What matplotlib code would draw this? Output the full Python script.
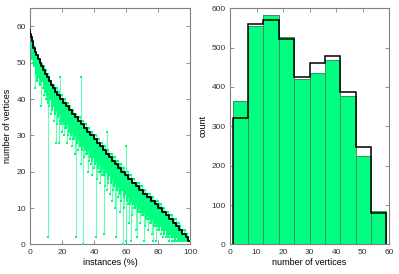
import numpy as np
import matplotlib
matplotlib.use('Agg')
import matplotlib.pyplot as plt

plt.rcParams['font.family'] = ['Liberation Sans', 'DejaVu Sans']

# left panel: best number of vertices per instance (staircase) --------------
# value of each step and the instance percentage where it starts
step_value = [59, 58, 57, 56, 55, 54, 53, 52, 51, 50, 49, 48, 47, 46, 45, 44,
              43, 42, 41, 40, 39, 38, 37, 36, 35, 34, 33, 32, 31, 30, 29, 28,
              27, 26, 25, 24, 23, 22, 21, 20, 19, 18, 17, 16, 15, 14, 13, 12,
              11, 10, 9, 8, 7, 6, 5, 4, 3, 2, 1]
step_start = [0, 0.3, 0.7, 1.2, 1.6, 2.1, 3.0, 4.0, 5.0, 6.0, 7.1, 8.2, 9.4,
              10.5, 11.7, 12.9, 14.1, 15.6, 17.1, 18.7, 20.5, 22.4, 24.2, 26.1,
              28.0, 29.9, 31.8, 33.7, 35.6, 37.8, 40.0, 41.9, 43.7, 45.6, 47.5,
              49.4, 51.3, 53.2, 55.1, 57.1, 59.1, 61.3, 63.6, 66.0, 68.4, 70.8,
              73.1, 75.5, 77.9, 80.3, 82.6, 85.0, 87.1, 89.2, 91.3, 93.4, 95.3,
              97.2, 99.0]

# green ranges (wide ones): instance position, lowest and highest value
inst_x = [0, 1, 2, 3, 4, 5, 6, 7, 8, 9, 10, 11, 12, 13, 14, 15, 16, 17, 18,
          19, 20, 21, 22, 23, 24, 25, 26, 27, 28, 29, 30, 31, 32, 33, 34, 35,
          36, 37, 38, 39, 40, 41, 42, 43, 44, 45, 46, 47, 48, 49, 50, 51, 52,
          53, 54, 55, 56, 57, 58, 59, 60, 61, 62, 63, 64, 65, 66, 67, 68, 69,
          70, 71, 72, 73, 74, 75, 76, 77, 78, 79, 80, 81, 82, 83, 84, 85, 86,
          87, 88, 89, 90, 91, 92, 93, 94, 95, 96, 97, 98, 99, 100]
inst_lo = [55, 53, 50, 43, 48, 46, 44, 38, 43, 41, 40, 2, 38, 36, 37, 34, 28,
           33, 28, 34, 31, 30, 32, 28, 30, 29, 27, 29, 25, 2, 26, 27, 22, 0,
           24, 25, 20, 23, 22, 19, 21, 2, 18, 20, 17, 19, 3, 16, 15, 17, 14,
           12, 15, 10, 2, 13, 9, 12, 0, 10, 1, 11, 6, 1, 8, 10, 4, 2, 9, 6, 8,
           1, 5, 7, 4, 6, 3, 1, 5, 1, 4, 5, 3, 2, 4, 2, 3, 1, 2, 1, 1, 2, 1, 1,
           1, 1, 1, 1, 1, 1, 1]
inst_hi = [59, 57, 56, 54, 53, 52, 51, 50, 49, 49, 48, 47, 46, 45, 44, 44, 43,
           43, 42, 46, 41, 40, 40, 39, 39, 38, 37, 37, 36, 36, 35, 35, 46, 34,
           33, 33, 32, 32, 31, 31, 30, 30, 29, 29, 28, 28, 27, 27, 31, 26, 25,
           25, 24, 24, 23, 23, 22, 22, 21, 21, 27, 20, 19, 19, 18, 18, 17, 17,
           17, 16, 16, 15, 15, 14, 14, 14, 13, 13, 12, 12, 12, 11, 11, 10, 10,
           9, 9, 8, 8, 8, 7, 7, 6, 6, 5, 4, 4, 4, 3, 2, 1]

# green ranges (close ones, the dense band just under the staircase)
band_x = [0.5, 1.5, 2.5, 3.5, 4.5, 5.5, 6.5, 7.5, 8.5, 9.5, 10.5, 11.5, 12.5,
          13.5, 14.5, 15.5, 16.5, 17.5, 18.5, 19.5, 20.5, 21.5, 22.5, 23.5,
          24.5, 25.5, 26.5, 27.5, 28.5, 29.5, 30.5, 31.5, 32.5, 33.5, 34.5,
          35.5, 36.5, 37.5, 38.5, 39.5, 40.5, 41.5, 42.5, 43.5, 44.5, 45.5,
          46.5, 47.5, 48.5, 49.5, 50.5, 51.5, 52.5, 53.5, 54.5, 55.5, 56.5,
          57.5, 58.5, 59.5, 60.5, 61.5, 62.5, 63.5, 64.5, 65.5, 66.5, 67.5,
          68.5, 69.5, 70.5, 71.5, 72.5, 73.5, 74.5, 75.5, 76.5, 77.5, 78.5,
          79.5, 80.5, 81.5, 82.5, 83.5, 84.5, 85.5, 86.5, 87.5, 88.5, 89.5,
          90.5, 91.5, 92.5, 93.5, 94.5, 95.5, 96.5, 97.5, 98.5, 99.5]
band_lo = [54, 51, 49, 47, 45, 46, 44, 45, 43, 42, 41, 39, 40, 37, 38, 36, 37,
           35, 36, 33, 34, 33, 32, 33, 31, 30, 31, 29, 30, 28, 29, 27, 26, 27,
           26, 25, 26, 24, 23, 24, 22, 23, 21, 22, 20, 21, 19, 20, 18, 19, 17,
           18, 16, 17, 15, 16, 14, 15, 13, 14, 12, 13, 11, 12, 11, 10, 11, 9,
           10, 9, 8, 9, 7, 8, 7, 6, 7, 5, 6, 5, 4, 5, 4, 3, 4, 3, 2, 3, 2, 2,
           1, 2, 1, 1, 1, 1, 1, 1, 1, 1]
band_hi = [58, 56, 55, 53, 52, 51, 50, 50, 49, 48, 47, 46, 45, 44, 44, 43, 42,
           42, 41, 40, 40, 39, 39, 38, 38, 37, 36, 36, 35, 35, 34, 34, 33, 33,
           32, 32, 31, 31, 30, 30, 29, 29, 28, 28, 27, 27, 26, 26, 25, 25, 24,
           24, 23, 23, 22, 22, 21, 21, 20, 20, 19, 19, 18, 18, 17, 17, 16, 16,
           16, 15, 15, 14, 14, 13, 13, 13, 12, 12, 11, 11, 11, 10, 10, 9, 9,
           8, 8, 7, 7, 7, 6, 6, 5, 5, 4, 3, 3, 2, 2, 1]

# right panel: histograms of number of vertices ------------------------------
bin_edges = [1, 6.8, 12.6, 18.4, 24.2, 30, 35.8, 41.6, 47.4, 53.2, 59]
green_count = [365, 556, 584, 526, 421, 435, 468, 378, 224, 85]
black_count = [320, 560, 570, 522, 425, 461, 479, 386, 247, 81]

green = '#00ff80'
light_green = '#66ffb2'
frame = '#808080'

fig = plt.figure(figsize=(3.99, 2.74), dpi=100)
ax1 = fig.add_axes([0.0752, 0.108, 0.401, 0.862])
ax2 = fig.add_axes([0.5765, 0.108, 0.3985, 0.862])

# green ranges
ax1.vlines(inst_x, inst_lo, inst_hi, color=light_green, lw=0.8, zorder=2)
ax1.vlines(band_x, band_lo, band_hi, color=green, lw=1.4, zorder=2)
for xs, ys in ((inst_x, inst_lo), (inst_x, inst_hi), (band_x, band_lo)):
    ax1.plot(xs, ys, 's', color=green, ms=1.6, mew=0, zorder=3)

# black staircase
sx = step_start + [100]
sy = step_value + [step_value[-1]]
ax1.step(sx, sy, where='post', color='k', lw=1.3, zorder=4)

ax1.set_xlim(0, 100)
ax1.set_ylim(0, 65)
ax1.set_xticks([0, 20, 40, 60, 80, 100])
ax1.set_yticks([0, 10, 20, 30, 40, 50, 60])
ax1.set_xlabel('instances (%)', fontsize=6.5, labelpad=2)
ax1.set_ylabel('number of vertices', fontsize=6.5, labelpad=3)

# histograms
widths = np.diff(bin_edges)
ax2.bar(bin_edges[:-1], green_count, widths, align='edge', color=green,
        edgecolor='#3f8f60', lw=0.7, zorder=2)
ax2.stairs(black_count, bin_edges, color='k', lw=1.1, baseline=0, zorder=3)

ax2.set_xlim(0, 60)
ax2.set_ylim(0, 600)
ax2.set_xticks([0, 10, 20, 30, 40, 50, 60])
ax2.set_yticks([0, 100, 200, 300, 400, 500, 600])
ax2.set_xlabel('number of vertices', fontsize=6.5, labelpad=2)
ax2.set_ylabel('count', fontsize=6.5, labelpad=3)

for ax in (ax1, ax2):
    for s in ax.spines.values():
        s.set_color(frame)
        s.set_linewidth(0.8)
    ax.tick_params(direction='in', length=3, width=0.6, color=frame,
                   labelsize=6, labelcolor='#333333', top=True, right=True,
                   pad=3)

fig.savefig('out.png', dpi=100)
